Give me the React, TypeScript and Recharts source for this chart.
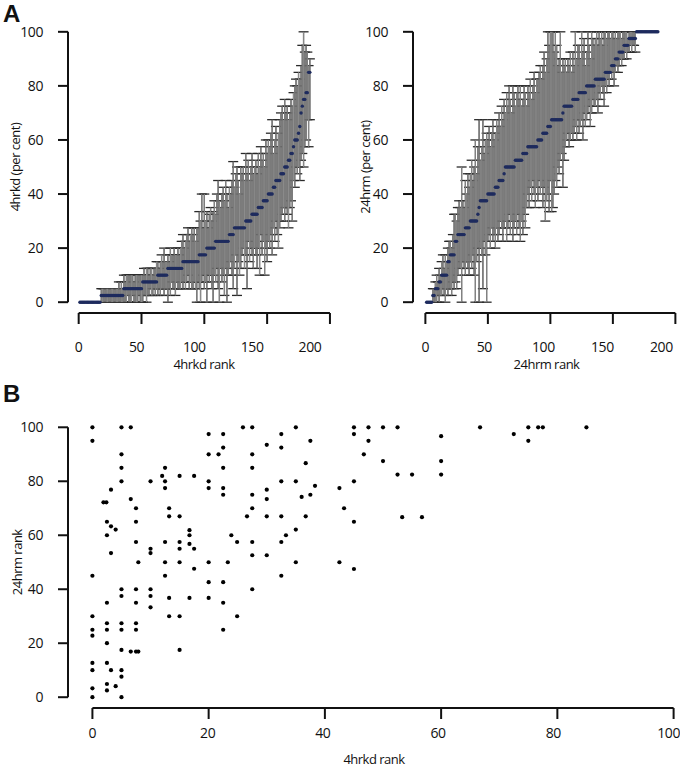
import React from "react";
import { ErrorBar, ReferenceLine, Scatter, ScatterChart, XAxis, YAxis } from "recharts";

const FONT = '"Open Sans", "Noto Sans", sans-serif';
const INK = "#111";
const NAVY = "#1e2b5e";

// panel A left: 4hrkd per cent by rank (median, low, high)
const kdMid = [
  0, 0, 0, 0, 0, 0, 0, 0, 0, 0,
  0, 0, 0, 0, 0, 0, 0, 2.5, 2.5, 2.5,
  2.5, 2.5, 2.5, 2.5, 2.5, 2.5, 2.5, 2.5, 2.5, 2.5,
  2.5, 2.5, 2.5, 2.5, 2.5, 5, 5, 5, 5, 5,
  5, 5, 5, 5, 5, 5, 5, 5, 5, 5,
  7.5, 7.5, 7.5, 7.5, 7.5, 7.5, 7.5, 7.5, 7.5, 7.5,
  7.5, 7.5, 10, 10, 10, 10, 10, 10, 10, 10,
  12.5, 12.5, 12.5, 12.5, 12.5, 12.5, 12.5, 12.5, 12.5, 12.5,
  12.5, 12.5, 15, 15, 15, 15, 15, 15, 15, 15,
  15, 15, 15, 15, 15, 17.5, 17.5, 17.5, 17.5, 17.5,
  17.5, 20, 20, 20, 20, 20, 20, 20, 22.5, 22.5,
  22.5, 22.5, 22.5, 22.5, 22.5, 22.5, 22.5, 22.5, 22.5, 25,
  25, 25, 25, 27.5, 27.5, 27.5, 27.5, 27.5, 27.5, 27.5,
  27.5, 27.5, 30, 30, 30, 30, 30, 32.5, 32.5, 32.5,
  32.5, 32.5, 35, 35, 35, 35, 37.5, 37.5, 37.5, 37.5,
  40, 40, 40, 40, 42.5, 42.5, 45, 45, 45, 45,
  47.5, 47.5, 47.5, 50, 50, 50, 52.5, 52.5, 55, 55,
  57.5, 60, 60, 60, 62.5, 65, 70, 72.5, 75, 75,
  77.5, 77.5, 85, 85,
];
const kdLo = [
  0, 0, 0, 0, 0, 0, 0, 0, 0, 0,
  0, 0, 0, 0, 0, 0, 0, 0, 0, 0,
  0, 0, 0, 0, 0, 0, 0, 0, 0, 0,
  0, 0, 0, 0, 0, 0, 0, 0, 2.5, 0,
  0, 0, 2.5, 0, 0, 0, 0, 2.5, 0, 0,
  0, 2.5, 2.5, 0, 2.5, 2.5, 5, 2.5, 2.5, 5,
  2.5, 5, 2.5, 5, 2.5, 5, 5, 2.5, 5, 5,
  0, 5, 2.5, 7.5, 5, 5, 2.5, 7.5, 5, 5,
  5, 7.5, 5, 7.5, 5, 7.5, 10, 5, 7.5, 5,
  5, 7.5, 5, 0, 7.5, 5, 0, 7.5, 10, 5,
  7.5, 0, 10, 7.5, 10, 5, 0, 10, 7.5, 12.5,
  5, 0, 12.5, 7.5, 10, 2.5, 12.5, 0, 10, 12.5,
  15, 10, 5, 12.5, 17.5, 2.5, 15, 10, 12.5, 17.5,
  20, 12.5, 17.5, 5, 22.5, 15, 20, 17.5, 12.5, 20,
  17.5, 12.5, 20, 10, 25, 17.5, 22.5, 10, 20, 15,
  22.5, 20, 25, 17.5, 27.5, 22.5, 30, 25, 20, 27.5,
  30, 32.5, 35, 30, 35, 32.5, 27.5, 35, 37.5, 30,
  45, 42.5, 50, 47.5, 50, 45, 52.5, 55, 50, 57.5,
  60, 67.5, 57.5, 67.5,
];
const kdHi = [
  0, 0, 0, 0, 0, 0, 0, 0, 0, 0,
  0, 0, 0, 0, 0, 0, 0, 5, 5, 5,
  5, 5, 5, 5, 5, 5, 5, 5, 5, 5,
  5, 7.5, 5, 7.5, 5, 10, 7.5, 10, 10, 10,
  10, 10, 10, 7.5, 10, 10, 10, 10, 10, 10,
  10, 12.5, 10, 12.5, 12.5, 10, 12.5, 12.5, 10, 12.5,
  12.5, 15, 15, 12.5, 15, 17.5, 15, 20, 15, 15,
  17.5, 15, 20, 17.5, 17.5, 20, 17.5, 17.5, 20, 17.5,
  20, 22.5, 25, 20, 22.5, 25, 27.5, 22.5, 25, 27.5,
  25, 27.5, 22.5, 27.5, 27.5, 33.5, 30, 40, 27.5, 40,
  30, 33.5, 27.5, 32.5, 35, 30, 33.5, 37.5, 32.5, 40,
  45, 37.5, 35, 40, 42.5, 37.5, 45, 40, 35, 42.5,
  40, 45, 52, 42.5, 47.5, 50, 45, 40, 50, 47.5,
  50, 45, 55, 47.5, 52.5, 45, 50, 55, 47.5, 50,
  52.5, 47.5, 55, 50, 57.5, 52.5, 55, 50, 60, 55,
  60, 57.5, 62.5, 67.5, 55, 60, 65, 57.5, 62.5, 67.5,
  70, 72.5, 67.5, 75, 70, 72.5, 67.5, 70, 75, 72.5,
  77.5, 80, 82.5, 80, 85, 82.5, 87.5, 95, 100, 92.5,
  95, 92.5, 87.5, 90,
];

// panel A right: 24hrm per cent by rank (median, low, high)
const hmMid = [
  0, 0, 0, 0, 0, 2.5, 2.5, 5, 5, 5,
  7.5, 7.5, 10, 10, 10, 10, 10, 15, 15, 17.5,
  17.5, 17.5, 17.5, 22.5, 22.5, 25, 25, 25, 25, 25,
  25, 27.5, 27.5, 27.5, 27.5, 30, 30, 30, 30, 30,
  30, 32.5, 35, 37.5, 37.5, 37.5, 37.5, 37.5, 37.5, 40,
  40, 40, 40, 40, 40, 42.5, 42.5, 42.5, 45, 45,
  45, 45, 47.5, 50, 50, 50, 50, 50, 50, 50,
  50, 52.5, 52.5, 52.5, 52.5, 52.5, 52.5, 55, 55, 55,
  55, 57.5, 57.5, 57.5, 57.5, 57.5, 57.5, 57.5, 57.5, 60,
  60, 60, 60, 62.5, 62.5, 62.5, 62.5, 65, 65, 65,
  67.5, 67.5, 67.5, 67.5, 67.5, 67.5, 67.5, 67.5, 67.5, 70,
  72.5, 72.5, 72.5, 72.5, 72.5, 72.5, 72.5, 75, 75, 75,
  75, 75, 77.5, 77.5, 77.5, 77.5, 77.5, 77.5, 80, 80,
  80, 80, 80, 80, 80, 82.5, 82.5, 82.5, 82.5, 82.5,
  82.5, 82.5, 82.5, 85, 85, 85, 85, 85, 87.5, 87.5,
  87.5, 90, 90, 90, 92.5, 92.5, 92.5, 92.5, 95, 95,
  95, 95, 97.5, 97.5, 97.5, 97.5, 97.5, 97.5, 100, 100,
  100, 100, 100, 100, 100, 100, 100, 100, 100, 100,
  100, 100, 100, 100, 100, 100,
];
const hmLo = [
  0, 0, 0, 0, 0, 0, 0, 0, 0, 2.5,
  0, 2.5, 2.5, 5, 2.5, 0, 5, 2.5, 5, 5,
  2.5, 7.5, 5, 7.5, 5, 10, 12.5, 12.5, 0, 15,
  12.5, 10, 15, 12.5, 10, 15, 12.5, 17.5, 10, 0,
  15, 20, 0, 20, 17.5, 5, 22.5, 17.5, 0, 22.5,
  25, 20, 27.5, 22.5, 25, 20, 27.5, 22.5, 25, 30,
  27.5, 22.5, 27.5, 30, 22.5, 27.5, 32.5, 25, 30, 22.5,
  27.5, 30, 25, 32.5, 27.5, 22.5, 30, 25, 32.5, 27.5,
  35, 40, 35, 42.5, 37.5, 45, 40, 35, 42.5, 37.5,
  45, 40, 42.5, 35, 42.5, 30, 37.5, 40, 33.5, 45,
  33.5, 35, 40, 45, 42.5, 50, 47.5, 52.5, 55, 42.5,
  52.5, 57.5, 60, 62.5, 57.5, 60, 62.5, 60, 62.5, 65,
  60, 67.5, 62.5, 65, 67.5, 60, 70, 65, 67.5, 70,
  72.5, 65, 70, 75, 72.5, 72.5, 75, 70, 77.5, 75,
  80, 77.5, 72.5, 80, 77.5, 82.5, 80, 85, 82.5, 85,
  80, 85, 87.5, 85, 87.5, 90, 87.5, 90, 90, 92.5,
  90, 92.5, 92.5, 95, 92.5, 95, 95, 92.5, 100, 100,
  100, 100, 100, 100, 100, 100, 100, 100, 100, 100,
  100, 100, 100, 100, 100, 100,
];
const hmHi = [
  0, 0, 0, 0, 0, 5, 5, 7.5, 10, 7.5,
  12.5, 10, 15, 17.5, 12.5, 17.5, 15, 20, 22.5, 22.5,
  20, 25, 32.5, 32.5, 30, 35, 37.5, 35, 50, 37.5,
  35, 45, 40, 47.5, 42.5, 47.5, 52.5, 45, 50, 60,
  47.5, 57.5, 67.5, 52.5, 57.5, 67.5, 55, 60, 62.5, 60,
  65, 57.5, 62.5, 67.5, 60, 62.5, 67.5, 65, 70, 65,
  72.5, 67.5, 75, 70, 77.5, 72.5, 80, 75, 70, 80,
  77.5, 72.5, 77.5, 80, 75, 80, 72.5, 75, 80, 77.5,
  72.5, 80, 77.5, 82.5, 75, 80, 85, 77.5, 82.5, 82.5,
  85, 87.5, 82.5, 87.5, 92.5, 85, 90, 100, 95, 100,
  100, 100, 92.5, 100, 95, 87.5, 90, 100, 85, 90,
  87.5, 90, 85, 90, 87.5, 92.5, 85, 92.5, 87.5, 100,
  90, 95, 95, 90, 100, 92.5, 97.5, 87.5, 92.5, 100,
  95, 90, 100, 97.5, 95, 97.5, 100, 95, 100, 97.5,
  100, 95, 100, 100, 97.5, 100, 100, 97.5, 100, 100,
  97.5, 100, 97.5, 100, 100, 100, 97.5, 100, 100, 100,
  100, 97.5, 100, 100, 100, 100, 100, 100, 100, 100,
  100, 100, 100, 100, 100, 100, 100, 100, 100, 100,
  100, 100, 100, 100, 100, 100,
];

// panel B: each sample's 4hrkd value against its 24hrm value
const kdPct = [
  0, 5, 6.6, 25.9, 27.5, 35, 20, 22.5, 32.5, 0,
  37.5, 30, 22.5, 32.5, 5, 20, 21.7, 27.5, 36.7, 5,
  12.5, 22.5, 27.5, 12, 15, 17.5, 5, 10, 12.5, 20,
  32.5, 35, 38.3, 12.5, 20, 22.5, 42.5, 3.2, 30, 22.5,
  27.5, 37.5, 36, 6.6, 30, 1.9, 2.4, 7.5, 13.2, 27.5,
  43.3, 13.2, 15, 26.6, 30, 32.5, 36.7, 2.5, 7.5, 3.2,
  4, 35, 16.7, 2.5, 16.7, 23.9, 33.3, 7.5, 12.5, 15,
  24.9, 27.5, 32.5, 16.7, 10, 15, 17.5, 3.2, 10, 27.5,
  30, 7.9, 12.5, 15, 20, 23.3, 35, 42.5, 17.5, 0,
  12.5, 32.5, 20, 22.5, 5, 7.5, 10, 27.5, 5, 10,
  13.2, 16.7, 20, 2.5, 7.5, 22.5, 10, 0, 13.2, 15,
  24.9, 2.5, 5, 7.5, 0, 2.5, 5, 7.5, 22.5, 0,
  2.5, 5, 15, 6.6, 7.5, 7.9, 0, 2.5, 0, 3.2,
  5, 5, 2.5, 4, 0, 2.5, 0, 5, 45, 47.5,
  50, 52.5, 66.7, 75, 76.7, 77.5, 85, 45, 72.5, 60,
  47.5, 75, 46.7, 50, 60, 52.5, 55, 60, 45, 53.3,
  56.7, 45, 45,
];
const hmPct = [
  100, 100, 100, 100, 100, 100, 97.5, 97.5, 97.5, 95,
  95, 93.5, 92.5, 92.5, 90, 90, 90, 90, 86.7, 85,
  85, 85, 85, 82, 82, 82, 80, 80, 80, 80,
  80, 80, 78.3, 77.5, 77.5, 77.5, 77.5, 76.9, 76.9, 75,
  75, 75, 74.2, 73.4, 73.4, 72.2, 72.2, 70, 70, 70,
  70, 67, 67, 67, 67, 67, 67, 65, 65, 63.3,
  62.1, 62.1, 61.9, 60, 60, 60, 60, 57.5, 57.5, 57.5,
  57.5, 57.5, 57.5, 56.8, 55, 55, 55, 53.4, 53.4, 52.6,
  52.6, 50, 50, 50, 50, 50, 50, 50, 47.6, 45,
  45, 45, 42.6, 42.6, 40, 40, 40, 40, 37.5, 37.5,
  36.8, 36.8, 36.8, 35, 35, 35, 33.3, 30, 30, 30,
  30, 27.4, 27.4, 27.4, 25, 25, 25, 25, 25, 22.8,
  20, 17.5, 17.5, 16.9, 16.9, 16.9, 12.7, 12.7, 10, 10,
  10, 7.6, 4.9, 4.1, 3.3, 2.5, 0, 0, 100, 100,
  100, 100, 100, 100, 100, 100, 100, 97.5, 97.5, 96.7,
  95, 95, 90, 87.5, 87.5, 82.5, 82.5, 82.5, 80, 66.7,
  66.7, 65, 47.5,
];

const pctTicks = [0, 20, 40, 60, 80, 100];
const rankTicks = [0, 50, 100, 150, 200];

type RankPoint = { rank: number; mid: number; err: [number, number] | null };

function byRank(mid: number[], lo: number[], hi: number[]): RankPoint[] {
  return mid.map((m, i) => ({
    rank: i + 1,
    mid: m,
    err: hi[i] > lo[i] ? [m - lo[i], hi[i] - m] : null,
  }));
}

const kdData = byRank(kdMid, kdLo, kdHi);
const hmData = byRank(hmMid, hmLo, hmHi);
const pairData = kdPct.map((x, i) => ({ x, y: hmPct[i] }));

const tickText = { fill: INK, fontSize: 14, fontFamily: FONT, letterSpacing: -0.4 };
const titleText = { fill: INK, fontSize: 13, fontFamily: FONT, letterSpacing: -0.5 };

function ShiftTick(props: any) {
  const { x, y, payload, shift } = props;
  return (
    <text x={x - payload.value * shift} y={y} dy="0.71em" textAnchor="middle" {...tickText}>
      {payload.value}
    </text>
  );
}

function RankPanel(p: {
  data: RankPoint[];
  xTitle: string;
  yTitle: string;
  xMin: number;
  xMax: number;
  axisW: number;
  yTitleOffset: number;
  shift: number;
}) {
  return (
    <ScatterChart width={340} height={376} margin={{ top: 21, right: 0, bottom: 0, left: 0 }}>
      <XAxis
        type="number"
        dataKey="rank"
        domain={[p.xMin, p.xMax]}
        allowDataOverflow
        ticks={rankTicks}
        interval={0}
        axisLine={false}
        tickLine={{ stroke: INK, strokeWidth: 2 }}
        tickSize={11}
        tickMargin={18}
        height={63}
        tick={<ShiftTick shift={p.shift} />}
        label={{ value: p.xTitle, position: "insideBottom", offset: 7, ...titleText }}
      />
      <YAxis
        type="number"
        dataKey="mid"
        domain={[-4, 104]}
        allowDataOverflow
        ticks={pctTicks}
        interval={0}
        axisLine={false}
        tickLine={{ stroke: INK, strokeWidth: 2 }}
        tickSize={10}
        tickMargin={15}
        width={p.axisW}
        tick={tickText}
        label={{
          value: p.yTitle,
          angle: -90,
          position: "insideLeft",
          offset: p.yTitleOffset,
          style: { textAnchor: "middle" },
          ...titleText,
        }}
      />
      <ReferenceLine
        segment={[{ x: p.xMin, y: 0 }, { x: p.xMin, y: 100 }]}
        stroke={INK}
        strokeWidth={2}
        ifOverflow="visible"
      />
      <ReferenceLine
        segment={[{ x: 0, y: -4 }, { x: 200, y: -4 }]}
        stroke={INK}
        strokeWidth={2}
        ifOverflow="visible"
      />
      <Scatter
        data={p.data}
        isAnimationActive={false}
        shape={(s: any) => <circle cx={s.cx} cy={s.cy} r={1.7} fill={NAVY} />}
      >
        <ErrorBar dataKey="err" direction="y" width={5} stroke="#2a2a2a" strokeWidth={1.3} isAnimationActive={false} />
        <ErrorBar dataKey="err" direction="y" width={0} stroke="#9a9a9a" strokeWidth={0.9} isAnimationActive={false} />
      </Scatter>
    </ScatterChart>
  );
}

const letter: React.CSSProperties = {
  position: "absolute",
  left: 3,
  fontFamily: '"Liberation Sans", Arial, sans-serif',
  fontWeight: 700,
  fontSize: 24,
  lineHeight: 1,
  color: INK,
};

export default function App() {
  return (
    <div style={{ position: "absolute", left: 0, top: 0, width: 680, height: 770, background: "#fff" }}>
      <div style={{ position: "absolute", left: 0, top: 0 }}>
        <RankPanel
          data={kdData}
          xTitle="4hrkd rank"
          yTitle="4hrkd (per cent)"
          xMin={-8.5}
          xMax={208}
          axisW={68}
          yTitleOffset={15}
          shift={0.1}
        />
      </div>
      <div style={{ position: "absolute", left: 340, top: 0 }}>
        <RankPanel
          data={hmData}
          xTitle="24hrm rank"
          yTitle="24hrm (per cent)"
          xMin={-9.9}
          xMax={203.7}
          axisW={73}
          yTitleOffset={25}
          shift={0.07}
        />
      </div>
      <div style={{ position: "absolute", left: 0, top: 380 }}>
        <ScatterChart width={680} height={390} margin={{ top: 36.5, right: 0, bottom: 0, left: 0 }}>
          <XAxis
            type="number"
            dataKey="x"
            domain={[-4.2, 101.1]}
            allowDataOverflow
            ticks={pctTicks}
            interval={0}
            axisLine={false}
            tickLine={{ stroke: INK, strokeWidth: 2 }}
            tickSize={11}
            tickMargin={9}
            height={62}
            tick={<ShiftTick shift={0.05} />}
            label={{ value: "4hrkd rank", position: "insideBottom", offset: 6, ...titleText }}
          />
          <YAxis
            type="number"
            dataKey="y"
            domain={[-4, 104]}
            allowDataOverflow
            ticks={pctTicks}
            interval={0}
            axisLine={false}
            tickLine={{ stroke: INK, strokeWidth: 2 }}
            tickSize={10}
            tickMargin={15}
            width={68}
            tick={tickText}
            label={{
              value: "24hrm rank",
              angle: -90,
              position: "insideLeft",
              offset: 17,
              style: { textAnchor: "middle" },
              ...titleText,
            }}
          />
          <ReferenceLine
            segment={[{ x: -4.2, y: 0 }, { x: -4.2, y: 100 }]}
            stroke={INK}
            strokeWidth={2}
            ifOverflow="visible"
          />
          <ReferenceLine
            segment={[{ x: 0, y: -4 }, { x: 100, y: -4 }]}
            stroke={INK}
            strokeWidth={2}
            ifOverflow="visible"
          />
          <Scatter
            data={pairData}
            isAnimationActive={false}
            shape={(s: any) => <circle cx={s.cx} cy={s.cy} r={2.1} fill="#000" />}
          />
        </ScatterChart>
      </div>
      <div style={{ ...letter, top: 2 }}>A</div>
      <div style={{ ...letter, top: 382 }}>B</div>
    </div>
  );
}
